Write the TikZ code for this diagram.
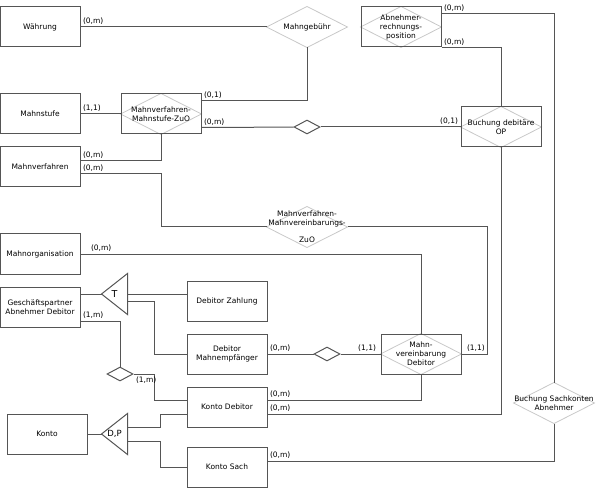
\documentclass[tikz,border=0pt]{standalone}
\usepackage{fontspec}
\setmainfont{DejaVu Sans}
\usetikzlibrary{shapes.geometric}

\definecolor{linegray}{HTML}{555555}
\definecolor{diagray}{HTML}{C8C8C8}

\begin{document}
\begin{tikzpicture}[x=1pt,y=-1pt,line width=1pt,
    link/.style={draw=linegray,line width=1pt},
    card/.style={inner sep=2pt,font=\fontsize{7.5}{8}\selectfont},
    entity node/.style={rectangle,draw=linegray,minimum width=80pt,minimum height=40pt,
      inner sep=1pt,align=center,font=\fontsize{7.5}{9}\selectfont},
    rel lines/.style={append after command={\pgfextra{\draw[diagray,line width=0.8pt]
      (\tikzlastnode.north) -- (\tikzlastnode.east) -- (\tikzlastnode.south)
      -- (\tikzlastnode.west) -- cycle;}}},
    rel box/.style={entity node,rel lines},
    rel dia/.style={rectangle,minimum width=80pt,minimum height=40pt,inner sep=0pt,
      align=center,font=\fontsize{7.5}{9}\selectfont,rel lines},
    small rel/.style={diamond,draw=linegray,minimum width=26pt,minimum height=14pt,inner sep=0pt},
    gen node/.style={rectangle,minimum width=25pt,minimum height=40pt,inner sep=0pt,
      font=\fontsize{8.5}{9}\selectfont,
      append after command={\pgfextra{\draw[linegray,line width=1pt]
      (\tikzlastnode.west) -- (\tikzlastnode.north east) -- (\tikzlastnode.south east)
      -- cycle;}}}]

  \useasboundingbox (0,0) rectangle (599,494);

  \node[entity node] (waehrung) at (40,27) {Währung};
  \node[rel dia] (mahngebuehr) at (307,27) {Mahngebühr};
  \node[rel box] (abnpos) at (401,27) {Abnehmer-\\rechnungs-\\position};
  \node[entity node] (mahnstufe) at (40,114) {Mahnstufe};
  \node[rel box] (zuo) at (161,114) {Mahnverfahren-\\Mahnstufe-ZuO};
  \node[small rel] (opdia) at (307,127) {};
  \node[rel box] (buchop) at (501,127) {Buchung debitäre\\OP};
  \node[entity node] (mahnverf) at (40,167) {Mahnverfahren};
  \node[rel dia] (mmzuo) at (307,227) {Mahnverfahren-\\Mahnvereinbarungs-\\[8pt]ZuO};
  \node[entity node] (mahnorg) at (40,254) {Mahnorganisation};
  \node[entity node] (gp) at (40,307) {Geschäftspartner\\Abnehmer Debitor};
  \node[gen node,font=\fontsize{9.5}{9}\selectfont] (genT) at (114.5,294) {T};
  \node[entity node] (dzahlung) at (227,301) {Debitor Zahlung};
  \node[entity node] (mahnempf) at (227,354) {Debitor\\Mahnempfänger};
  \node[small rel] (empfdia) at (327,354) {};
  \node[rel box] (vereinb) at (421,354) {Mahn-\\vereinbarung\\Debitor};
  \node[small rel] (gpdia) at (120,374) {};
  \node[entity node] (kontodeb) at (227,407) {Konto Debitor};
  \node[entity node] (konto) at (47,434) {Konto};
  \node[gen node] (genDP) at (114.5,434) {D,P};
  \node[entity node] (kontosach) at (227,467) {Konto Sach};
  \node[rel dia] (buchsach) at (554,403) {Buchung Sachkonten\\Abnehmer};

  % Mahngebuehr, ZuO
  \draw[link] (waehrung) -- node[card,pos=0,above right]{(0,m)} (mahngebuehr);
  \draw[link] ([yshift=-7pt]zuo.north east) -| node[card,pos=0,above right]{(0,1)} (mahngebuehr.south);
  \draw[link] (mahnstufe) -- node[card,pos=0,above right]{(1,1)} (zuo);
  \draw[link] ([yshift=7pt]zuo.south east) -- node[card,pos=0,above right]{(0,m)} (opdia);
  \draw[link] (opdia) -- node[card,pos=1,above left]{(0,1)} (buchop);
  \draw[link] (zuo.south) |- node[card,pos=1,above right]{(0,m)} ([yshift=6pt]mahnverf.east);
  \draw[link] ([yshift=-7pt]mahnverf.east) node[card,above right]{(0,m)}
    -| (zuo.south |- mmzuo.west) -- (mmzuo.west);
  \draw[link] (mmzuo.east) -- ++(140,0) |- node[card,pos=1,above right,xshift=3pt]{(1,1)} (vereinb.east);
  \draw[link] (mahnorg) -| node[card,pos=0,above right,xshift=8pt]{(0,m)} (vereinb.north);

  % Buchungen
  \draw[link] ([yshift=-7pt]abnpos.north east) node[card,above right]{(0,m)} -| (buchsach.north);
  \draw[link] (abnpos.south east) node[card,above right]{(0,m)} -| (buchop.north);
  \draw[link] (buchop.south) |- node[card,pos=1,above right]{(0,m)} ([yshift=-7pt]kontodeb.east);
  \draw[link] (vereinb.south) |- node[card,pos=1,above right]{(0,m)} ([yshift=7pt]kontodeb.east);
  \draw[link] (buchsach.south) |- node[card,pos=1,above right]{(0,m)} ([yshift=6pt]kontosach.east);

  % Debitor
  \draw[link] (mahnempf) -- node[card,pos=0,above right]{(0,m)} (empfdia);
  \draw[link] (empfdia) -- node[card,pos=1,above left,xshift=-2pt]{(1,1)} (vereinb);
  \draw[link] ([yshift=13pt]gp.east) -- (genT.west);
  \draw[link] (genT.east) -- (dzahlung.west |- genT.east);
  \draw[link] ([yshift=-7pt]genT.east) -- ++(27,0) |- (mahnempf.west);
  \draw[link] ([yshift=-14pt]gp.east) node[card,above right]{(1,m)} -| (gpdia.north);
  \draw[link] (gpdia.east) node[card,below right]{(1,m)} -- ++(21,0) |- ([yshift=7pt]kontodeb.west);

  % Konto
  \draw[link] (konto) -- (genDP.west);
  \draw[link] ([yshift=7pt]genDP.east) -- ++(33,0) |- ([yshift=-7pt]kontodeb.west);
  \draw[link] ([yshift=-7pt]genDP.east) -- ++(33,0) |- (kontosach.west);
\end{tikzpicture}
\end{document}
